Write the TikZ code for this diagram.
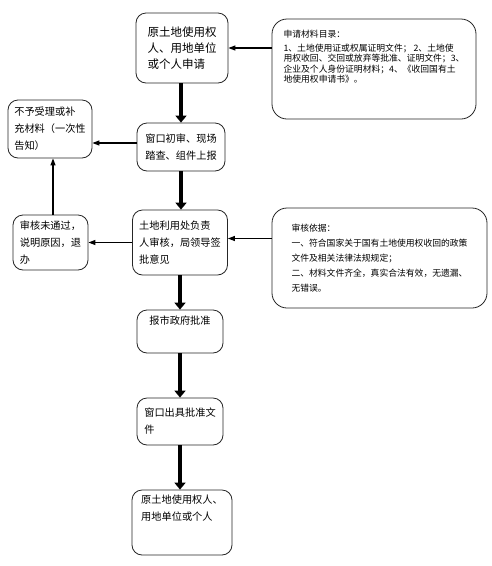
\documentclass[tikz,border=0pt]{standalone}
\usepackage{fontspec}
\setmainfont{Noto Sans CJK SC}
\usetikzlibrary{arrows.meta}
\begin{document}
\begin{tikzpicture}[x=1pt,y=-1pt,
  box/.style={draw=black!85, line width=0.8pt, rounded corners=10pt, align=left, inner sep=0pt},
  fbig/.style={font=\fontsize{11.5}{16}\selectfont},
  fmid/.style={font=\fontsize{10.2}{17}\selectfont},
  fsmall/.style={font=\fontsize{8.8}{10.5}\selectfont},
  faud/.style={font=\fontsize{8.8}{15}\selectfont},
  thick arrow/.style={line width=3.6pt, -{Triangle[length=7pt,width=11pt]}},
  thin arrow/.style={line width=1.1pt, -{Triangle[length=7pt,width=5pt]}}
]
\useasboundingbox (0,0) rectangle (491,566);
\fill[white] (0,0) rectangle (491,566);

\node[box, fbig, minimum width=92pt, minimum height=70pt] (b1) at (182,48)
  {原土地使用权\\人、用地单位\\或个人申请};
\node[box, fsmall, rounded corners=15pt, minimum width=204pt, minimum height=100pt] (mat) at (374,69)
  {申请材料目录：\\[3pt]
   1、土地使用证或权属证明文件；\ 2、土地使\\
   用权收回、交回或放弃等批准、证明文件；3、\\
   企业及个人身份证明材料；4、《收回国有土\\
   地使用权申请书》。\\[14pt]};
\node[box, fmid, minimum width=88pt, minimum height=48pt] (b2) at (181,147)
  {窗口初审、现场\\踏查、组件上报};
\node[box, fmid, minimum width=84pt, minimum height=58pt] (rej) at (50,129)
  {不予受理或补\\充材料（一次性\\告知）};
\node[box, fmid, minimum width=95pt, minimum height=65pt] (b3) at (180,242.5)
  {土地利用处负责\\人审核，局领导签\\批意见};
\node[box, fmid, minimum width=75pt, minimum height=55pt] (fail) at (50.5,242.5)
  {审核未通过，\\说明原因，退\\办};
\node[box, faud, rounded corners=15pt, minimum width=215pt, minimum height=100pt] (aud) at (379.5,258)
  {审核依据：\\
   一、符合国家关于国有土地使用权收回的政策\\
   文件及相关法律法规规定；\\
   二、材料文件齐全，真实合法有效，无遗漏、\\
   无错误。};
\node[box, fmid, minimum width=86pt, minimum height=43pt] (b4) at (180,331.5)
  {报市政府批准\\[6pt]};
\node[box, fmid, minimum width=86pt, minimum height=47pt] (b5) at (180,421.5)
  {窗口出具批准文\\件};
\node[box, fmid, minimum width=100pt, minimum height=65pt] (b6) at (182,522.5)
  {原土地使用权人、\\用地单位或个人\\[12pt]};

% main flow
\draw[thick arrow] (b1.south -| b2.north) -- (b2.north);
\draw[thick arrow] (b2.south) -- (b2.south |- b3.north);
\draw[thick arrow] (b3.south -| b4.north) -- (b4.north);
\draw[thick arrow] (b4.south) -- (b5.north);
\draw[thick arrow] (b5.south) -- (b5.south |- b6.north);

% side arrows
\draw[thin arrow] (mat.west |- b1.east) -- (b1.east);
\draw[thin arrow] ([yshift=4pt]b2.west) -- ([yshift=4pt]b2.west -| rej.east);
\draw[thin arrow] (b3.west) -- (b3.west -| fail.east);
\draw[thin arrow] ([yshift=4pt]b3.east -| aud.west) -- ([yshift=4pt]b3.east);
\draw[thin arrow] ([xshift=2.5pt]fail.north) -- ([xshift=2.5pt]fail.north |- rej.south);
\end{tikzpicture}
\end{document}
